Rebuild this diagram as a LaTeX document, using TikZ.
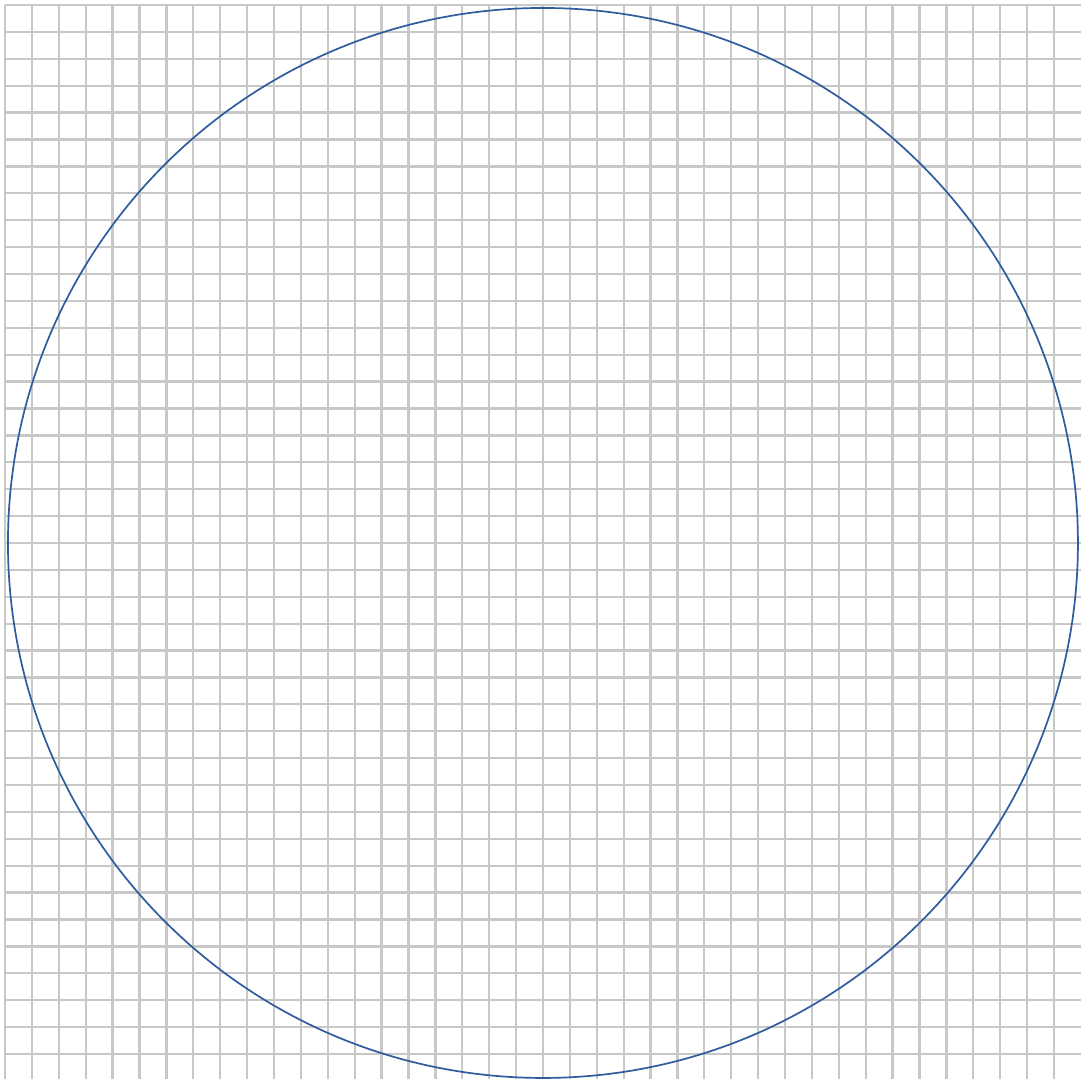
\documentclass[tikz,border=0pt]{standalone}
\usepackage{tikz}
\definecolor{gridgray}{RGB}{200,200,200}
\definecolor{circblue}{RGB}{47,92,159}

\begin{document}
\begin{tikzpicture}[x=1cm, y=-1cm,
    gridline/.style={gridgray, line width=2.4pt},
    circleline/.style={circblue, line width=1.8pt}]
    % Canvas
    \useasboundingbox (0,0) rectangle (40.19,40.11);
    \fill[white] (0,0) rectangle (40.19,40.11);

    % Grid
    \foreach \k in {0,...,39} {
        \draw[gridline] (0.186+\k, 0.186) -- (0.186+\k, 40.11);
        \draw[gridline] (0.186, 0.186+\k) -- (40.19, 0.186+\k);
    }

    % Circle
    \draw[circleline] (20.186, 20.186) circle (19.89);
\end{tikzpicture}
\end{document}
